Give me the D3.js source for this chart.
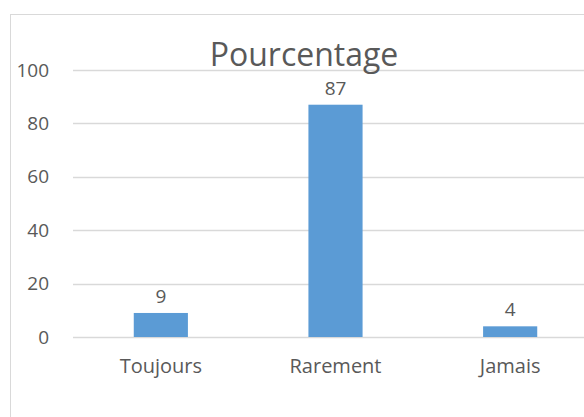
<!DOCTYPE html>
<html>
<head>
<meta charset="utf-8">
<script src="https://cdn.jsdelivr.net/npm/d3@7"></script>
<style>
    body { margin: 0; background: #fff; }
    text { font-family: "Open Sans", "Liberation Sans", sans-serif; fill: #595959; }
</style>
</head>
<body>
<svg id="chart" width="584" height="417"></svg>
<script>
const categories = ["Toujours", "Rarement", "Jamais"];
const values = [9, 87, 4];
const yTicks = [0, 20, 40, 60, 80, 100];
const title = "Pourcentage";

const svg = d3.select("#chart");

// chart frame, right and bottom edges are cut off by the picture
svg.append("rect")
    .attr("x", 10.5).attr("y", 14.5)
    .attr("width", 600).attr("height", 430)
    .attr("fill", "#fff")
    .attr("stroke", "#d9d9d9");

const x = d3.scaleBand()
    .domain(categories)
    .range([73.5, 597.5])
    .paddingInner(0.69)
    .paddingOuter(0.345);

const y = d3.scaleLinear()
    .domain([0, 100])
    .range([337, 70]);

// gridlines
svg.append("g")
    .selectAll("line")
    .data(yTicks)
    .join("line")
    .attr("x1", 73).attr("x2", 584)
    .attr("y1", d => Math.round(y(d)) + 0.5)
    .attr("y2", d => Math.round(y(d)) + 0.5)
    .attr("stroke", "#d9d9d9")
    .attr("stroke-width", 1.3);

// y axis labels
const yAxis = svg.append("g")
    .attr("transform", "translate(73,0)")
    .call(d3.axisLeft(y).tickValues(yTicks).tickSize(0).tickPadding(24));
yAxis.select(".domain").remove();
yAxis.selectAll("text")
    .attr("font-size", 19)
    .attr("fill", "#595959")
    .style("font-family", "\"Open Sans\", sans-serif");

// bars
svg.append("g")
    .selectAll("rect")
    .data(values)
    .join("rect")
    .attr("x", (d, i) => x(categories[i]))
    .attr("y", d => y(d))
    .attr("width", x.bandwidth())
    .attr("height", d => y(0) - y(d))
    .attr("fill", "#5b9bd5");

// value labels
svg.append("g")
    .selectAll("text")
    .data(values)
    .join("text")
    .attr("x", (d, i) => x(categories[i]) + x.bandwidth() / 2)
    .attr("y", d => y(d) - 10)
    .attr("text-anchor", "middle")
    .attr("font-size", 19)
    .attr("fill", "#404040")
    .text(d => d);

// x axis labels
const xAxis = svg.append("g")
    .attr("transform", `translate(0,${y(0)})`)
    .call(d3.axisBottom(x).tickSize(0).tickPadding(22));
xAxis.select(".domain").remove();
xAxis.selectAll("text")
    .attr("font-size", 20)
    .attr("fill", "#595959")
    .style("font-family", "\"Open Sans\", sans-serif");

// title
svg.append("text")
    .attr("x", 304)
    .attr("y", 66)
    .attr("text-anchor", "middle")
    .attr("font-size", 32)
    .text(title);
</script>
</body>
</html>
